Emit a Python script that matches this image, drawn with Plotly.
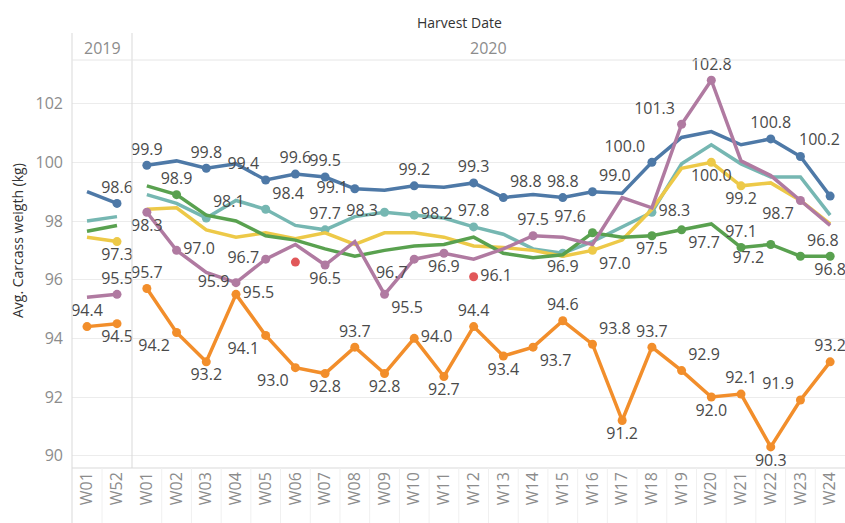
import plotly.graph_objects as go

# tick labels for the two year panels
weeks_2019 = ["W01", "W52"]
weeks_2020 = ["W01", "W02", "W03", "W04", "W05", "W06", "W07", "W08", "W09", "W10", "W11", "W12",
              "W13", "W14", "W15", "W16", "W17", "W18", "W19", "W20", "W21", "W22", "W23", "W24"]

# avg carcass weight (kg) per series
blue_2019 = [99.0, 98.6]
blue_2020 = [99.9, 100.05, 99.8, 99.95, 99.4, 99.6, 99.5, 99.1, 99.05, 99.2, 99.15, 99.3,
             98.8, 98.9, 98.8, 99.0, 98.95, 100.0, 100.85, 101.05, 100.6, 100.8, 100.2, 98.85]

teal_2019 = [98.0, 98.15]
teal_2020 = [98.9, 98.6, 98.1, 98.7, 98.4, 97.85, 97.7, 98.15, 98.3, 98.2, 98.1, 97.8,
             97.55, 97.05, 96.9, 97.3, 97.8, 98.3, 99.95, 100.6, 99.95, 99.5, 99.5, 98.2]

green_2019 = [97.65, 97.85]
green_2020 = [99.2, 98.9, 98.2, 98.0, 97.5, 97.35, 97.05, 96.8, 97.0, 97.15, 97.2, 97.45,
              96.9, 96.75, 96.85, 97.6, 97.45, 97.5, 97.7, 97.9, 97.1, 97.2, 96.8, 96.8]

yellow_2019 = [97.45, 97.3]
yellow_2020 = [98.4, 98.45, 97.7, 97.45, 97.6, 97.4, 97.6, 97.2, 97.6, 97.6, 97.45, 97.15,
               97.1, 97.0, 96.8, 97.0, 97.35, 98.4, 99.8, 100.0, 99.2, 99.3, 98.7, 97.9]

purple_2019 = [95.4, 95.5]
purple_2020 = [98.3, 97.0, 96.25, 95.9, 96.7, 97.2, 96.5, 97.3, 95.5, 96.7, 96.9, 96.7,
               97.05, 97.5, 97.45, 97.2, 98.8, 98.45, 101.3, 102.8, 100.05, 99.55, 98.7, 97.85]

red_2020 = [None, None, None, None, None, 96.6, None, None, None, None, None, 96.1,
            None, None, None, None, None, None, None, None, None, None, None, None]

orange_2019 = [94.4, 94.5]
orange_2020 = [95.7, 94.2, 93.2, 95.5, 94.1, 93.0, 92.8, 93.7, 92.8, 94.0, 92.7, 94.4,
               93.4, 93.7, 94.6, 93.8, 91.2, 93.7, 92.9, 92.0, 92.1, 90.3, 91.9, 93.2]

# which points get a marker, and where its label goes (None = marker only)
TC, BC, ML, MR = "top center", "bottom center", "middle left", "middle right"
TL, TR, BL, BR = "top left", "top right", "bottom left", "bottom right"

blue_marks = ({1: TC},
              {0: TC, 2: TC, 4: TL, 5: TC, 6: TC, 7: ML, 9: TC, 11: TC, 12: TR, 14: TC,
               15: TR, 17: TL, 21: TC, 22: None, 23: None})
teal_marks = ({},
              {2: TR, 4: TR, 6: TC, 8: ML, 9: MR, 11: TC, 14: BC, 17: MR})
green_marks = ({},
               {1: TC, 15: TL, 17: BC, 18: BR, 20: TC, 21: BL, 22: TR, 23: BC})
yellow_marks = ({1: BC},
                {15: BR, 19: BC, 20: BC})
purple_marks = ({1: TC},
                {0: BC, 1: MR, 3: ML, 4: ML, 6: BC, 8: BR, 9: BL, 10: BC, 13: TC, 18: TL,
                 19: TC, 22: BL})
red_marks = ({}, {5: None, 11: MR})
orange_marks = ({0: TC, 1: BC},
                {0: TC, 1: BL, 2: BC, 3: MR, 4: BL, 5: BL, 6: BC, 7: TC, 8: BC, 9: MR,
                 10: BC, 11: TC, 12: BC, 13: BR, 14: TC, 15: TR, 16: BC, 17: TC, 18: TR,
                 19: BC, 20: TC, 21: BC, 22: TL, 23: TC})

series = [
    ("#4E79A7", blue_2019, blue_2020, blue_marks),
    ("#76B7B2", teal_2019, teal_2020, teal_marks),
    ("#EDC948", yellow_2019, yellow_2020, yellow_marks),
    ("#59A14F", green_2019, green_2020, green_marks),
    ("#B07AA1", purple_2019, purple_2020, purple_marks),
    ("#F28E2B", orange_2019, orange_2020, orange_marks),
    ("#E15759", None, red_2020, red_marks),
]

FONT = "Open Sans"
LABEL = "#4a4a4a"
GREY = "#8c8c8c"
LINE = "#d9d9d9"

fig = go.Figure()

for color, v19, v20, marks in series:
    for xa, weeks, vals, mk in (("x", weeks_2019, v19, marks[0]), ("x2", weeks_2020, v20, marks[1])):
        if vals is None:
            continue
        if all(v is not None for v in vals):
            fig.add_trace(go.Scatter(
                x=weeks, y=vals, mode="lines", xaxis=xa, yaxis="y",
                line=dict(color=color, width=3.5), hoverinfo="skip", showlegend=False,
            ))
        idx = sorted(mk)
        if not idx:
            continue
        fig.add_trace(go.Scatter(
            x=[weeks[i] for i in idx], y=[vals[i] for i in idx],
            mode="markers+text", xaxis=xa, yaxis="y",
            marker=dict(color=color, size=9),
            text=["" if mk[i] is None else f"{vals[i]:.1f}" for i in idx],
            textposition=[mk[i] or TC for i in idx],
            textfont=dict(family=FONT, size=16, color=LABEL),
            cliponaxis=False, showlegend=False,
        ))

W, H = 773, 408          # plot area in px
split = 60 / W
top = 1 + 27 / H
bottom = -55 / H

shapes = [
    dict(type="line", xref="paper", yref="paper", x0=0, x1=0, y0=bottom, y1=top,
         line=dict(color=LINE, width=1)),
    dict(type="line", xref="paper", yref="paper", x0=split, x1=split, y0=0, y1=top,
         line=dict(color=LINE, width=1)),
    dict(type="line", xref="paper", yref="paper", x0=0, x1=1, y0=1, y1=1,
         line=dict(color="#e6e6e6", width=1)),
    dict(type="line", xref="paper", yref="paper", x0=0, x1=1, y0=0, y1=0,
         line=dict(color=LINE, width=1)),
]
# faint column dividers in the tick-label band
for i in range(len(weeks_2019) - 1):
    shapes.append(dict(type="line", xref="x", yref="paper", x0=i + 0.5, x1=i + 0.5,
                       y0=bottom, y1=0, line=dict(color="#f0f0f0", width=1)))
for i in range(len(weeks_2020) - 1):
    shapes.append(dict(type="line", xref="x2", yref="paper", x0=i + 0.5, x1=i + 0.5,
                       y0=bottom, y1=0, line=dict(color="#f0f0f0", width=1)))

xcommon = dict(type="category", anchor="y", showgrid=False, zeroline=False, showline=False,
               ticks="", tickangle=-90, tickfont=dict(family=FONT, size=16, color=GREY),
               fixedrange=True)

fig.update_layout(
    width=845, height=523,
    margin=dict(l=72, r=0, t=60, b=55, pad=0),
    paper_bgcolor="white", plot_bgcolor="white",
    font=dict(family=FONT),
    xaxis=dict(domain=[0, split], range=[-0.5, 1.5], **xcommon),
    xaxis2=dict(domain=[split, 1], range=[-0.5, 23.5], **xcommon),
    yaxis=dict(range=[89.58, 103.49], tickvals=[90, 92, 94, 96, 98, 100, 102],
               showgrid=True, gridcolor="#ececec", gridwidth=1, zeroline=False,
               showline=False, ticks="", ticklabelstandoff=8,
               tickfont=dict(family=FONT, size=16, color=GREY)),
    shapes=shapes,
    annotations=[
        dict(text="Harvest Date", xref="paper", yref="paper", x=(459 - 72) / W,
             y=(468 - 22) / H, xanchor="center", yanchor="middle", showarrow=False,
             font=dict(family=FONT, size=14, color="#333333")),
        dict(text="2019", xref="paper", yref="paper", x=split / 2, y=(468 - 48) / H,
             xanchor="center", yanchor="middle", showarrow=False,
             font=dict(family=FONT, size=16, color=GREY)),
        dict(text="2020", xref="paper", yref="paper", x=(split + 1) / 2, y=(468 - 48) / H,
             xanchor="center", yanchor="middle", showarrow=False,
             font=dict(family=FONT, size=16, color=GREY)),
        dict(text="Avg. Carcass weigth (kg)", xref="paper", yref="paper",
             x=(17 - 72) / W, y=(468 - 241) / H, xanchor="center", yanchor="middle",
             textangle=-90, showarrow=False,
             font=dict(family=FONT, size=14, color="#333333")),
        # blue W23 label sits tight against the right edge
        dict(text=f"{blue_2020[22]:.1f}", xref="x2", yref="y", x=weeks_2020[22], y=blue_2020[22],
             xanchor="right", yanchor="bottom", xshift=42, yshift=5, showarrow=False,
             font=dict(family=FONT, size=16, color=LABEL)),
    ],
    showlegend=False,
)

fig.write_html("out.html", config={"displayModeBar": False},
               post_script="document.body.style.margin='0';document.body.style.overflow='hidden';")
